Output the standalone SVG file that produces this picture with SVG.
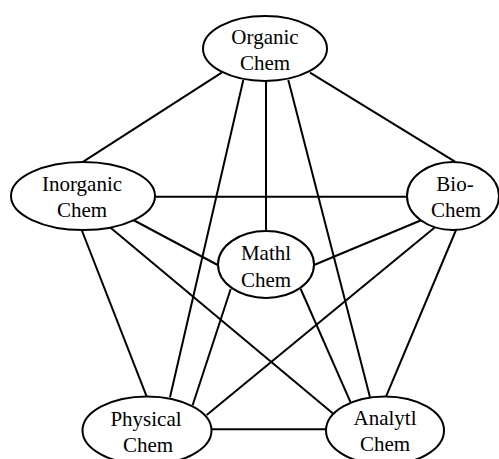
<svg xmlns="http://www.w3.org/2000/svg" width="499" height="459" viewBox="0 0 499 459">
<style>
.edge{stroke:#000;stroke-width:2;fill:none}
.node ellipse{fill:#fff;stroke:#000;stroke-width:2}
.node text{font-family:"Liberation Serif","Times New Roman",serif;font-size:21px;fill:#000;text-anchor:middle}
</style>
<rect width="499" height="459" fill="#fff"/>
<g id="connectors">
<line class="edge" x1="221.7" y1="72.7" x2="83.3" y2="161.7"/>
<line class="edge" x1="310" y1="72.7" x2="455" y2="161.7"/>
<line class="edge" x1="266" y1="81" x2="266" y2="231"/>
<line class="edge" x1="243.3" y1="80" x2="170" y2="397.3"/>
<line class="edge" x1="288.3" y1="80" x2="370" y2="397.3"/>
<line class="edge" x1="154" y1="196.7" x2="407" y2="196.7"/>
<line class="edge" x1="133.3" y1="220" x2="217.7" y2="265"/>
<line class="edge" x1="110" y1="227.3" x2="332.7" y2="413.3"/>
<line class="edge" x1="81.7" y1="230" x2="146.7" y2="396.7"/>
<line class="edge" x1="421.7" y1="220" x2="314" y2="265"/>
<line class="edge" x1="435" y1="227.3" x2="206.7" y2="415"/>
<line class="edge" x1="456" y1="230" x2="386" y2="396.7"/>
<line class="edge" x1="230.7" y1="289" x2="192.7" y2="405"/>
<line class="edge" x1="300.7" y1="289" x2="350.7" y2="402.7"/>
<line class="edge" x1="211.7" y1="429.3" x2="326" y2="429.3"/>
</g>
<g id="organic" class="node">
<ellipse cx="265" cy="48.5" rx="62" ry="32.5"/>
<text x="265" y="44">Organic</text>
<text x="265" y="70">Chem</text>
</g>
<g id="inorganic" class="node">
<ellipse cx="83" cy="196" rx="72" ry="34"/>
<text x="82" y="191">Inorganic</text>
<text x="82" y="217">Chem</text>
</g>
<g id="bio" class="node">
<ellipse cx="453" cy="196" rx="46" ry="34"/>
<text x="455" y="191">Bio-</text>
<text x="456" y="217">Chem</text>
</g>
<g id="mathl" class="node">
<ellipse cx="266" cy="264.5" rx="48" ry="33.5"/>
<text x="266" y="260">Mathl</text>
<text x="266" y="286.5">Chem</text>
</g>
<g id="physical" class="node">
<ellipse cx="147" cy="430.5" rx="64.5" ry="34"/>
<text x="146" y="425.5">Physical</text>
<text x="148" y="452">Chem</text>
</g>
<g id="analytl" class="node">
<ellipse cx="385" cy="430.5" rx="59" ry="34"/>
<text x="385" y="425">Analytl</text>
<text x="385" y="451">Chem</text>
</g>
</svg>
